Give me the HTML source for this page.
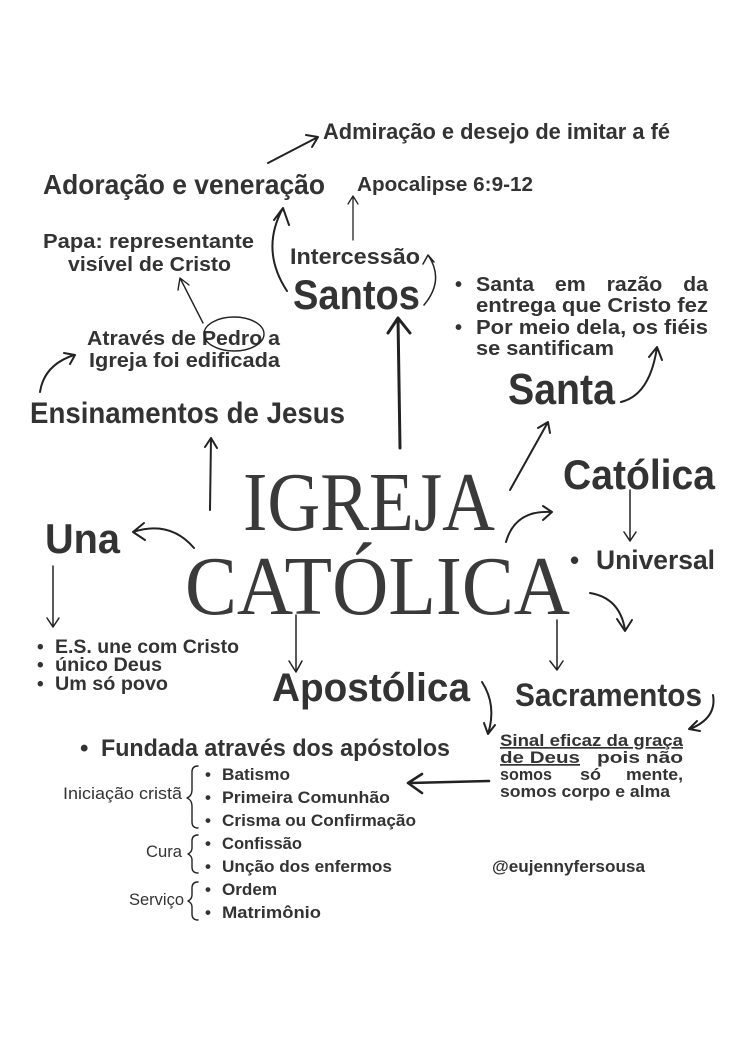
<!DOCTYPE html>
<html><head><meta charset="utf-8"><style>
html,body{margin:0;padding:0;background:#fff;}
svg{display:block;}
.s{font-family:"Liberation Sans",sans-serif;font-weight:bold;fill:#333;}
.r{font-family:"Liberation Serif",serif;fill:#3a3a3a;}
.a{fill:none;stroke:#222;stroke-width:2;stroke-linecap:round;stroke-linejoin:round;}
.t{fill:none;stroke:#222;stroke-width:1.4;stroke-linecap:round;stroke-linejoin:round;}
</style></head><body>
<svg width="736" height="1039" viewBox="0 0 736 1039" xmlns="http://www.w3.org/2000/svg">
<g class="s">
<text x="323" y="139" font-size="22" textLength="347" lengthAdjust="spacingAndGlyphs">Admiração e desejo de imitar a fé</text>
<text x="43" y="194" font-size="28" textLength="282" lengthAdjust="spacingAndGlyphs">Adoração e veneração</text>
<text x="357" y="191" font-size="20" textLength="176" lengthAdjust="spacingAndGlyphs">Apocalipse 6:9-12</text>
<text x="43" y="248" font-size="20" textLength="211" lengthAdjust="spacingAndGlyphs">Papa: representante</text>
<text x="68" y="271" font-size="20" textLength="163" lengthAdjust="spacingAndGlyphs">visível de Cristo</text>
<text x="290" y="264" font-size="22" textLength="130" lengthAdjust="spacingAndGlyphs">Intercessão</text>
<text x="293" y="309" font-size="42" textLength="127" lengthAdjust="spacingAndGlyphs">Santos</text>
<text x="455" y="291" font-size="20">•</text>
<text x="476" y="291" font-size="20" textLength="232" lengthAdjust="spacingAndGlyphs" word-spacing="14">Santa em razão da</text>
<text x="476" y="312" font-size="20" textLength="232" lengthAdjust="spacingAndGlyphs">entrega que Cristo fez</text>
<text x="455" y="334" font-size="20">•</text>
<text x="476" y="334" font-size="20" textLength="232" lengthAdjust="spacingAndGlyphs">Por meio dela, os fiéis</text>
<text x="476" y="355" font-size="20" textLength="138" lengthAdjust="spacingAndGlyphs">se santificam</text>
<text x="87" y="345" font-size="20" textLength="193" lengthAdjust="spacingAndGlyphs">Através de Pedro a</text>
<text x="89" y="367" font-size="20" textLength="191" lengthAdjust="spacingAndGlyphs">Igreja foi edificada</text>
<text x="508" y="404" font-size="44" textLength="107" lengthAdjust="spacingAndGlyphs">Santa</text>
<text x="30" y="423" font-size="30" textLength="315" lengthAdjust="spacingAndGlyphs">Ensinamentos de Jesus</text>
<text x="563" y="489" font-size="42" textLength="152" lengthAdjust="spacingAndGlyphs">Católica</text>
<text x="45" y="553" font-size="42" textLength="75" lengthAdjust="spacingAndGlyphs">Una</text>
<text x="570" y="569" font-size="26">•</text>
<text x="596" y="569" font-size="27" textLength="119" lengthAdjust="spacingAndGlyphs">Universal</text>
<text x="37" y="653" font-size="19">•</text><text x="55" y="653" font-size="19" textLength="184" lengthAdjust="spacingAndGlyphs">E.S. une com Cristo</text>
<text x="37" y="671" font-size="19">•</text><text x="55" y="671" font-size="19" textLength="107" lengthAdjust="spacingAndGlyphs">único Deus</text>
<text x="37" y="690" font-size="19">•</text><text x="55" y="690" font-size="19" textLength="113" lengthAdjust="spacingAndGlyphs">Um só povo</text>
<text x="272" y="701" font-size="40" textLength="198" lengthAdjust="spacingAndGlyphs">Apostólica</text>
<text x="515" y="706" font-size="32" textLength="187" lengthAdjust="spacingAndGlyphs">Sacramentos</text>
<text x="80" y="756" font-size="24">•</text>
<text x="101" y="756" font-size="24" textLength="349" lengthAdjust="spacingAndGlyphs">Fundada através dos apóstolos</text>
<g font-size="17">
<text x="500" y="746" textLength="183" lengthAdjust="spacingAndGlyphs" text-decoration="underline">Sinal eficaz da graça</text>
<text x="500" y="763" textLength="80" lengthAdjust="spacingAndGlyphs" text-decoration="underline">de Deus</text>
<text x="597" y="763" textLength="86" lengthAdjust="spacingAndGlyphs">pois não</text>
<text x="500" y="780" textLength="52" lengthAdjust="spacingAndGlyphs">somos</text><text x="580" y="780" textLength="21" lengthAdjust="spacingAndGlyphs">só</text><text x="626" y="780" textLength="57" lengthAdjust="spacingAndGlyphs">mente,</text>
<text x="500" y="797" textLength="170" lengthAdjust="spacingAndGlyphs">somos corpo e alma</text>
</g>
<g font-size="17">
<text x="63" y="799" textLength="119" lengthAdjust="spacingAndGlyphs" font-weight="normal">Iniciação cristã</text>
<text x="146" y="857" textLength="36" lengthAdjust="spacingAndGlyphs" font-weight="normal">Cura</text>
<text x="129" y="905" textLength="55" lengthAdjust="spacingAndGlyphs" font-weight="normal">Serviço</text>
<text x="205" y="780">•</text><text x="222" y="780" textLength="68" lengthAdjust="spacingAndGlyphs">Batismo</text>
<text x="205" y="803">•</text><text x="222" y="803" textLength="168" lengthAdjust="spacingAndGlyphs">Primeira Comunhão</text>
<text x="205" y="826">•</text><text x="222" y="826" textLength="194" lengthAdjust="spacingAndGlyphs">Crisma ou Confirmação</text>
<text x="205" y="849">•</text><text x="222" y="849" textLength="80" lengthAdjust="spacingAndGlyphs">Confissão</text>
<text x="205" y="872">•</text><text x="222" y="872" textLength="170" lengthAdjust="spacingAndGlyphs">Unção dos enfermos</text>
<text x="205" y="895">•</text><text x="222" y="895" textLength="55" lengthAdjust="spacingAndGlyphs">Ordem</text>
<text x="205" y="918">•</text><text x="222" y="918" textLength="99" lengthAdjust="spacingAndGlyphs">Matrimônio</text>
<text x="492" y="872" textLength="153" lengthAdjust="spacingAndGlyphs">@eujennyfersousa</text>
</g>
</g>
<text class="r" x="243" y="530" font-size="84" textLength="252" lengthAdjust="spacingAndGlyphs">IGREJA</text>
<text class="r" x="185" y="614" font-size="84" textLength="385" lengthAdjust="spacingAndGlyphs">CATÓLICA</text>
<!-- braces -->
<path class="t" d="M198 766 q-6 0 -6 6 v18 q0 6 -5 8 q5 2 5 8 v16 q0 6 6 6"/>
<path class="t" d="M198 835 q-6 0 -6 6 v7 q0 4 -4 6 q4 2 4 6 v7 q0 6 6 6"/>
<path class="t" d="M198 882 q-6 0 -6 6 v7 q0 4 -4 6 q4 2 4 6 v7 q0 6 6 6"/>
<!-- arrows -->
<path class="a" d="M268 163 L318 137 M306 135 L318 137 L312 147"/>
<path class="a" d="M287 291 Q260 250 283 208 M274 220 L283 208 L289 225"/>
<path class="a" d="M353 240 V196 M348 204 L353 196 L358 204" style="stroke-width:1.3"/>
<path class="a" d="M424 305 Q445 280 428 255 M423 264 L428 255 L434 262" style="stroke-width:1.5"/>
<path class="a" d="M400 448 L398 318 M388 333 L398 318 L410 333" style="stroke-width:3"/>
<path class="t" d="M203 323 L180 278 M178 290 L180 278 L189 285"/>
<ellipse cx="234" cy="334" rx="30" ry="17" class="t"/>
<path class="a" d="M40 392 Q44 365 74 355 M64 353 L75 355 L70 364"/>
<path class="a" d="M621 402 Q650 395 657 347 M649 357 L657 347 L662 360"/>
<path class="a" d="M510 490 L548 422 M538 428 L548 422 L550 433"/>
<path class="a" d="M210 510 L211 438 M205 447 L211 438 L217 448"/>
<path class="a" d="M506 542 Q515 510 551 512 M543 506 L552 512 L543 520"/>
<path class="a" d="M630 490 V541 M624 532 L630 541 L636 532" style="stroke-width:1.5"/>
<path class="a" d="M194 548 Q170 520 133 532 M144 523 L133 532 L145 540"/>
<path class="a" d="M53 566 V627 M47 618 L53 627 L59 618" style="stroke-width:1.5"/>
<path class="a" d="M590 593 Q620 598 625 630 M617 619 L625 631 L632 620"/>
<path class="a" d="M296 615 V672 M289 661 L296 672 L302 661" style="stroke-width:1.5"/>
<path class="a" d="M557 620 V670 M550 661 L557 670 L563 661" style="stroke-width:1.5"/>
<path class="a" d="M482 682 Q497 705 488 734 M484 723 L488 734 L495 725"/>
<path class="a" d="M713 695 Q717 718 690 729 M697 721 L689 729 L700 731"/>
<path class="a" d="M489 781 L410 783 M422 774 L408 783 L422 793" style="stroke-width:2.6"/>
</svg>
</body></html>
